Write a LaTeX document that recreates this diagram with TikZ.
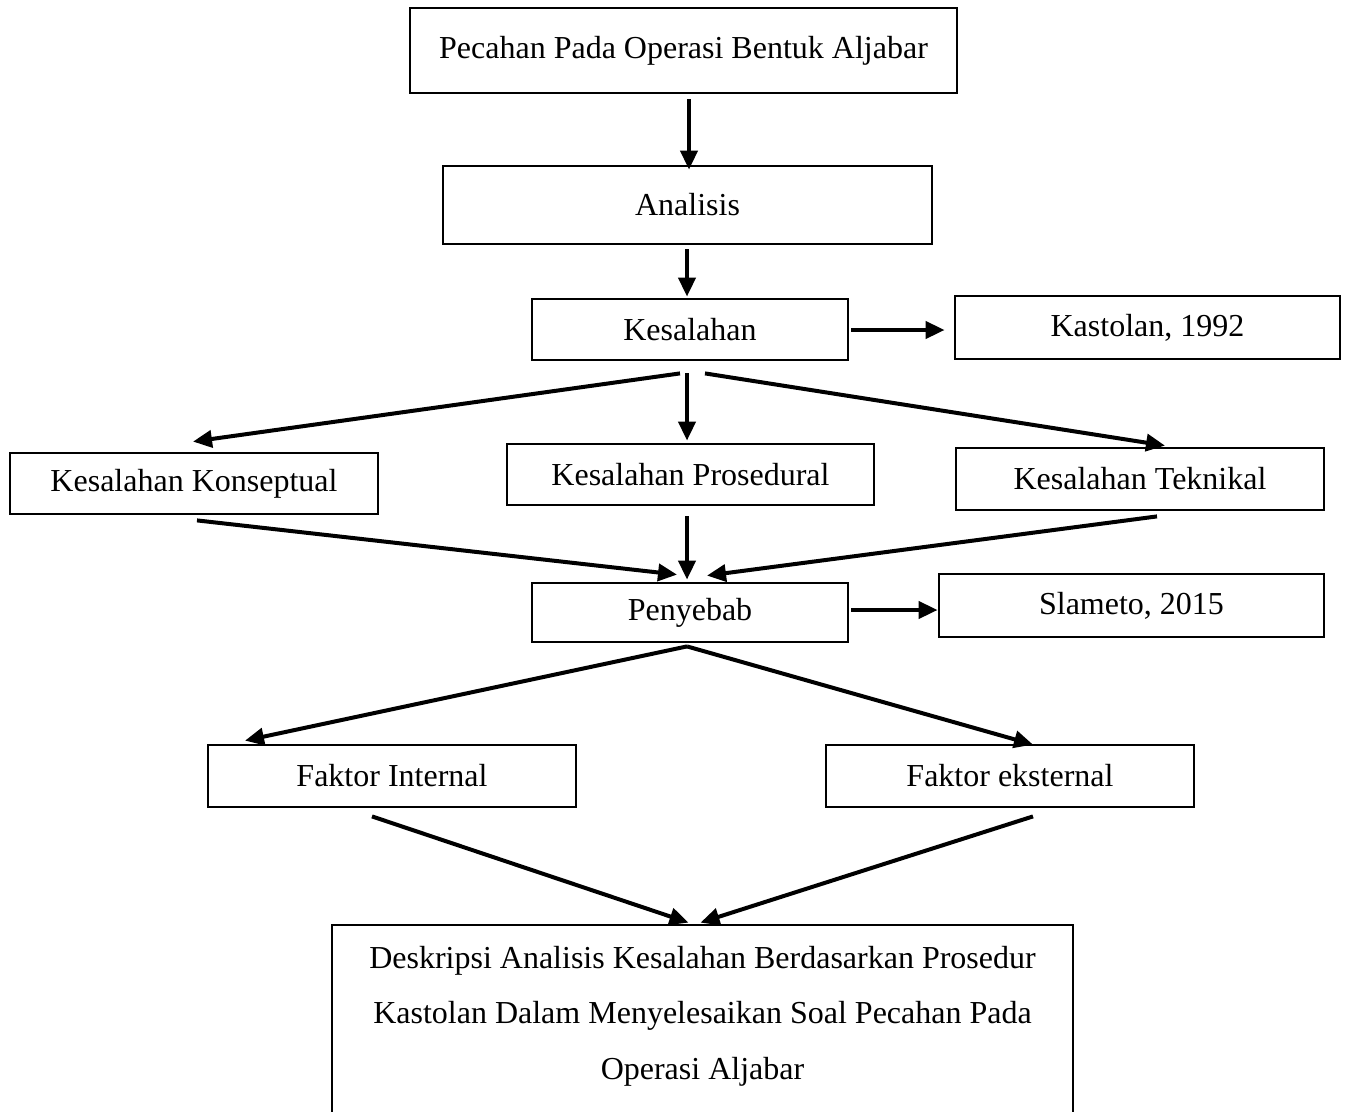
\documentclass[tikz,border=0pt]{standalone}
\usepackage{fontspec}
\setmainfont{Liberation Serif}
\usetikzlibrary{arrows.meta,calc}
\tikzset{
  box/.style={draw=black, line width=2.8pt, inner sep=0pt, align=center,
    font=\fontsize{32pt}{38pt}\selectfont},
  arr/.style={line width=4pt, -{Triangle[length=19pt,width=17pt]}},
}
\begin{document}
\begin{tikzpicture}[x=1pt,y=-1pt]
\useasboundingbox (0,0) rectangle (1346,1111);
\fill[white] (0,0) rectangle (1346,1111);
\clip (0,0) rectangle (1346,1111);

\node[box, minimum width=547pt, minimum height=85pt] (top) at (683.5,50.5) {Pecahan Pada Operasi Bentuk Aljabar};
\node[box, minimum width=489pt, minimum height=78pt] (ana) at (687.5,205) {Analisis};
\node[box, minimum width=316pt, minimum height=61pt] (kes) at (690,329.5) {Kesalahan};
\node[box, minimum width=385pt, minimum height=63pt] (kas) at (1147.5,327.5) {Kastolan, 1992};
\node[box, minimum width=368pt, minimum height=61pt] (kon) at (194,483.5) {Kesalahan Konseptual};
\node[box, minimum width=367pt, minimum height=61pt] (pro) at (690.5,474.5) {Kesalahan Prosedural};
\node[box, minimum width=368pt, minimum height=62pt] (tek) at (1140,479) {Kesalahan Teknikal};
\node[box, minimum width=316pt, minimum height=59pt] (pen) at (690,612.5) {Penyebab};
\node[box, minimum width=385pt, minimum height=63pt] (sla) at (1131.5,605.5) {Slameto, 2015};
\node[box, minimum width=368pt, minimum height=62pt] (fin) at (392,776) {Faktor Internal};
\node[box, minimum width=368pt, minimum height=62pt] (fek) at (1010,776) {Faktor eksternal};
\node[box, minimum width=741pt, minimum height=210pt] (desc) at (702.5,1030) {};
\node[anchor=north, inner sep=0pt, align=center,
  font=\fontsize{32pt}{55.5pt}\selectfont] (desctext) at (702.5,946)
  {Deskripsi Analisis Kesalahan Berdasarkan Prosedur\\Kastolan Dalam Menyelesaikan Soal Pecahan Pada\\Operasi Aljabar};

% connector end points
\coordinate (a1s) at ($(top.south)+(5.5,5)$);
\coordinate (a1e) at ($(ana.north)+(1.5,5)$);
\coordinate (a2s) at ($(ana.south)+(-0.5,4)$);
\coordinate (a2e) at ($(kes.north)+(-3,-1)$);
\coordinate (a3s) at ($(kes.east)+(2,0.5)$);
\coordinate (a3e) at ($(kas.west)+(-9,2.5)$);
\coordinate (k1) at ($(kes.south)+(-10,12)$);
\coordinate (k2) at ($(kes.south)+(-3,12)$);
\coordinate (k3) at ($(kes.south)+(15,12)$);
\coordinate (a4e) at ($(kon.north)+(-1,-10)$);
\coordinate (a5e) at ($(pro.north)+(-3.5,-2)$);
\coordinate (a6e) at ($(tek.north)+(25,-1)$);
\coordinate (a7s) at ($(kon.south)+(3,5)$);
\coordinate (a7e) at ($(pen.north)+(-13,-7)$);
\coordinate (a8s) at ($(pro.south)+(-3.5,10)$);
\coordinate (a8e) at ($(pen.north)+(-3,-2)$);
\coordinate (a9s) at ($(tek.south)+(17,5)$);
\coordinate (a9e) at ($(pen.north)+(17,-6)$);
\coordinate (a10s) at ($(pen.east)+(2,-2.5)$);
\coordinate (a10e) at ($(sla.west)+(0,4.5)$);
\coordinate (p1) at ($(pen.south)+(-3,3)$);
\coordinate (a11e) at ($(fin.north)+(-147,-3)$);
\coordinate (a12e) at ($(fek.north)+(23,1)$);
\coordinate (a13s) at ($(fin.south)+(-20,8)$);
\coordinate (a13e) at ($(desc.north)+(-14,-1)$);
\coordinate (a14s) at ($(fek.south)+(23,8)$);
\coordinate (a14e) at ($(desc.north)+(-2,-1)$);

\draw[arr] (a1s) -- (a1e);
\draw[arr] (a2s) -- (a2e);
\draw[arr] (a3s) -- (a3e);
\draw[arr] (k1) -- (a4e);
\draw[arr] (k2) -- (a5e);
\draw[arr] (k3) -- (a6e);
\draw[arr] (a7s) -- (a7e);
\draw[arr] (a8s) -- (a8e);
\draw[arr] (a9s) -- (a9e);
\draw[arr] (a10s) -- (a10e);
\draw[arr] (p1) -- (a11e);
\draw[arr] (p1) -- (a12e);
\draw[arr] (a13s) -- (a13e);
\draw[arr] (a14s) -- (a14e);
\end{tikzpicture}
\end{document}
